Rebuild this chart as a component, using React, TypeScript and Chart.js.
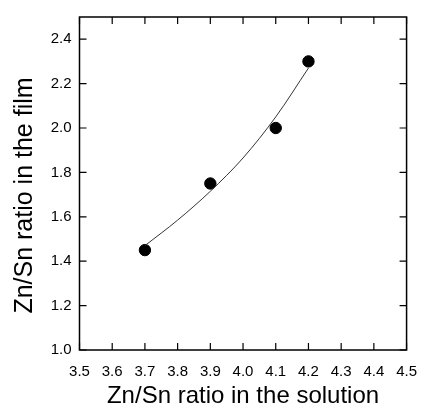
import React, { useEffect, useRef } from 'react';
import { Chart, registerables } from 'chart.js';

Chart.register(...registerables);

const xTicks = [3.5, 3.6, 3.7, 3.8, 3.9, 4.0, 4.1, 4.2, 4.3, 4.4, 4.5];
const yTicks = [1.0, 1.2, 1.4, 1.6, 1.8, 2.0, 2.2, 2.4];
const measuredX = [3.7, 3.9, 4.1, 4.2];
const measuredY = [1.45, 1.75, 2.0, 2.3];
const fitX = [3.7, 3.8, 3.9, 4.0, 4.1, 4.2];
const fitY = [1.47, 1.585, 1.715, 1.865, 2.05, 2.27];
const xTitle = 'Zn/Sn ratio in the solution';
const yTitle = 'Zn/Sn ratio in the film';

const FONT = '"Liberation Sans", Arial, sans-serif';

const framePlugin = {
  id: 'framePlugin',
  afterDraw(chart: any) {
    const { ctx, chartArea, scales } = chart;
    const { left, right, top, bottom } = chartArea;
    const x = scales.x;
    const y = scales.y;
    ctx.save();
    ctx.strokeStyle = '#000';
    ctx.lineWidth = 1.5;
    ctx.strokeRect(left, top, right - left, bottom - top);
    ctx.lineWidth = 1.2;
    const len = 7;
    ctx.beginPath();
    xTicks.forEach((v) => {
      const px = x.getPixelForValue(v);
      ctx.moveTo(px, bottom);
      ctx.lineTo(px, bottom - len);
      ctx.moveTo(px, top);
      ctx.lineTo(px, top + len);
    });
    yTicks.forEach((v) => {
      const py = y.getPixelForValue(v);
      ctx.moveTo(left, py);
      ctx.lineTo(left + len, py);
      ctx.moveTo(right, py);
      ctx.lineTo(right - len, py);
    });
    ctx.stroke();

    ctx.fillStyle = '#000';
    ctx.textAlign = 'center';
    ctx.textBaseline = 'alphabetic';
    ctx.font = `24px ${FONT}`;
    ctx.fillText(xTitle, (left + right) / 2, bottom + 52.7);
    ctx.font = `25px ${FONT}`;
    ctx.translate(left - 47.8, (top + bottom) / 2 + 12);
    ctx.rotate(-Math.PI / 2);
    ctx.fillText(yTitle, 0, 0);
    ctx.restore();
  },
};

export default function App() {
  const ref = useRef<HTMLCanvasElement | null>(null);

  useEffect(() => {
    if (!ref.current) return;
    const chart = new Chart(ref.current, {
      type: 'scatter',
      data: {
        datasets: [
          {
            type: 'line',
            label: 'fit',
            data: fitX.map((v, i) => ({ x: v, y: fitY[i] })),
            borderColor: '#333',
            borderWidth: 1,
            pointRadius: 0,
            cubicInterpolationMode: 'monotone',
            fill: false,
          } as any,
          {
            label: 'measured',
            data: measuredX.map((v, i) => ({ x: v, y: measuredY[i] })),
            backgroundColor: '#000',
            borderColor: '#000',
            pointRadius: 5.7,
            pointHoverRadius: 5.7,
          },
        ],
      },
      options: {
        responsive: false,
        animation: false,
        layout: { padding: { top: 11, right: 13.3, left: 0, bottom: 0 } },
        plugins: { legend: { display: false }, tooltip: { enabled: false } },
        scales: {
          x: {
            type: 'linear',
            min: 3.5,
            max: 4.5,
            grid: { display: false, drawTicks: false },
            border: { display: false },
            afterBuildTicks: (s: any) => {
              s.ticks = xTicks.map((v) => ({ value: v }));
            },
            afterFit: (s: any) => {
              s.height = 63;
            },
            ticks: {
              color: '#000',
              padding: 13,
              maxRotation: 0,
              autoSkip: false,
              font: { family: FONT, size: 15 },
              callback: (v: any) => Number(v).toFixed(1),
            },
          },
          y: {
            type: 'linear',
            min: 1.0,
            max: 2.5,
            grid: { display: false, drawTicks: false },
            border: { display: false },
            afterBuildTicks: (s: any) => {
              s.ticks = yTicks.map((v) => ({ value: v }));
            },
            afterFit: (s: any) => {
              s.width = 79.5;
            },
            ticks: {
              color: '#000',
              padding: 8,
              autoSkip: false,
              font: { family: FONT, size: 15 },
              callback: (v: any) => Number(v).toFixed(1),
            },
          },
        },
      },
      plugins: [framePlugin],
    });
    return () => chart.destroy();
  }, []);

  return (
    <div style={{ position: 'fixed', left: 0, top: 0, width: 430, height: 413, background: '#fff' }}>
      <canvas ref={ref} width={430} height={413} style={{ display: 'block' }} />
    </div>
  );
}
